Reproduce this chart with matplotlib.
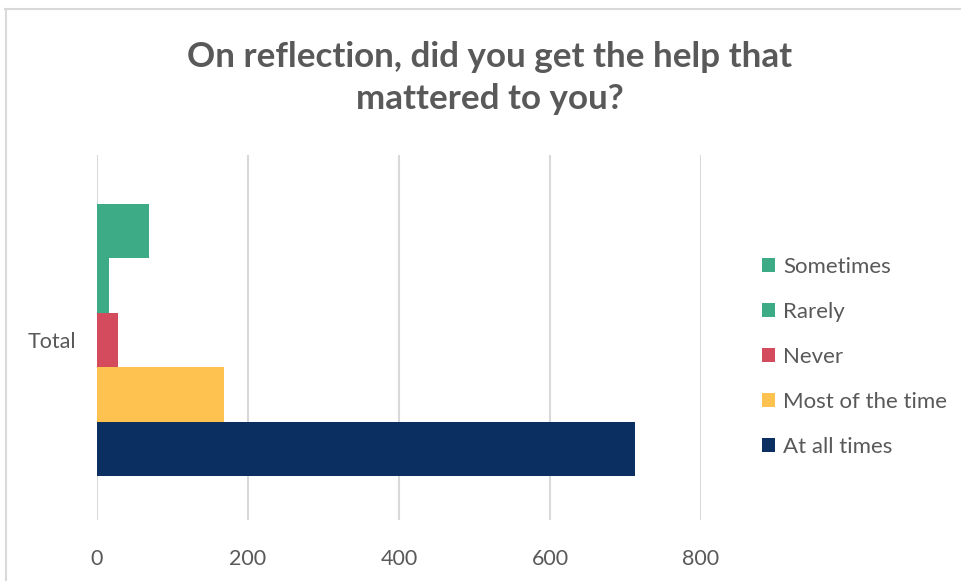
import matplotlib
matplotlib.use("Agg")
import matplotlib.pyplot as plt
from matplotlib.lines import Line2D

plt.rcParams['font.family'] = ['Lato', 'DejaVu Sans']

title = "On reflection, did you get the help that\nmattered to you?"
category = "Total"
series_names = ["At all times", "Most of the time", "Never", "Rarely", "Sometimes"]
series_values = [713, 168, 28, 16, 69]
series_colors = ["#0B2F60", "#FDC24F", "#D34B5C", "#3DAB86", "#3DAB86"]
x_ticks = [0, 200, 400, 600, 800]

W, H = 962, 581
fig = plt.figure(figsize=(W / 100, H / 100), dpi=100)
fig.patch.set_facecolor("white")

# plot area in pixel coordinates
left, right, top, bottom = 97, 701, 155, 520
ax = fig.add_axes([left / W, 1 - bottom / H, (right - left) / W, (bottom - top) / H])

bar_h = 0.149
n = len(series_names)
for i, (name, val, col) in enumerate(zip(series_names, series_values, series_colors)):
    ypos = (i - (n - 1) / 2) * bar_h
    ax.barh(ypos, val, height=bar_h, color=col, label=name, zorder=3, linewidth=0)

ax.set_xlim(0, 800)
ax.set_ylim(-0.493, 0.507)
ax.set_xticks(x_ticks)
ax.set_xticklabels([str(t) for t in x_ticks], fontsize=15.5, color="#595959")
ax.set_yticks([0])
ax.set_yticklabels([category], fontsize=15.5, color="#595959")
ax.tick_params(axis="both", length=0)
ax.tick_params(axis="x", pad=21)
ax.tick_params(axis="y", pad=15)
ax.grid(axis="x", color="#D9D9D9", linewidth=1.5, zorder=0)
for s in ax.spines.values():
    s.set_visible(False)

fig.text(490 / W, 1 - 78 / H, title, ha="center", va="center", fontsize=25.2,
         fontweight="bold", color="#595959", linespacing=1.42)

# legend, top entry first
handles, labels = ax.get_legend_handles_labels()
leg = fig.legend(handles[::-1], labels[::-1], loc="center left",
                 bbox_to_anchor=(742 / W, 1 - 357 / H), frameon=False,
                 fontsize=16, labelcolor="#595959", handlelength=0.6,
                 handleheight=0.6, handletextpad=0.35, labelspacing=1.13)

# chart frame
fig.add_artist(Line2D([5 / W, 1], [1 - 8.5 / H, 1 - 8.5 / H], transform=fig.transFigure,
                      color="#D9D9D9", linewidth=1.5))
fig.add_artist(Line2D([5.5 / W, 5.5 / W], [0, 1 - 8.5 / H], transform=fig.transFigure,
                      color="#D9D9D9", linewidth=1.5))

fig.savefig("out.png", dpi=100)
